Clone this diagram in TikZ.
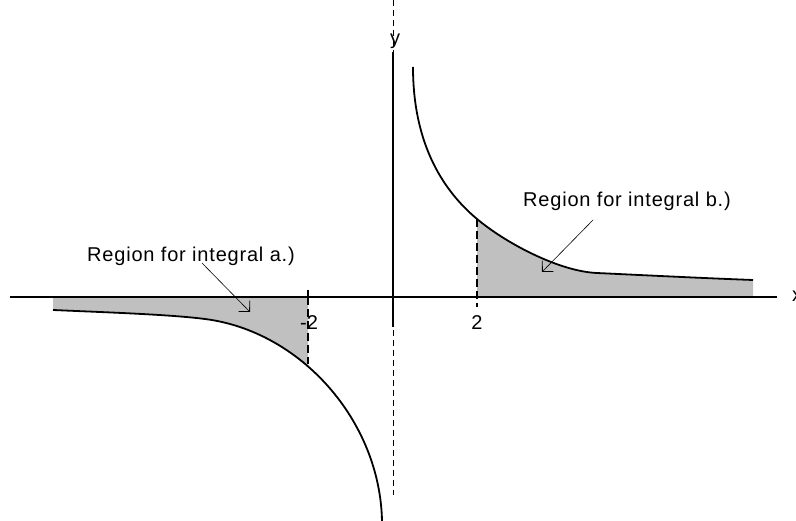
\documentclass[tikz,border=0pt]{standalone}
\usepackage{fontspec}
\setmainfont{Liberation Sans}
\usetikzlibrary{arrows.meta}
\definecolor{shadegray}{HTML}{C0C0C0}
\begin{document}
\begin{tikzpicture}[x=1pt,y=-1pt,
  lbl/.style={font=\fontsize{20}{24}\selectfont\addfontfeature{LetterSpace=4}, inner sep=0pt, anchor=base},
  num/.style={font=\fontsize{20}{24}\selectfont, inner sep=0pt, anchor=base},
  axis/.style={line width=1.6pt},
  curve/.style={line width=1.8pt},
  bound/.style={line width=1.6pt, dash pattern=on 8pt off 4pt},
  asym/.style={line width=0.8pt, dash pattern=on 6pt off 4pt},
  pointer/.style={line width=0.6pt, -{Straight Barb[angle=90:11pt, line width=0.8pt]}}]
\useasboundingbox (0,0) rectangle (796,521);
% shaded regions
\begin{scope}
  \clip (477,0) rectangle (753,297);
  \fill[shadegray] (413,67) .. controls (413,140) and (440,188) .. (477,219)
    .. controls (507,244) and (560,271.5) .. (597,273)
    .. controls (650,275.5) and (700,278) .. (753,280) -- (753,297) -- (413,297) -- cycle;
\end{scope}
\begin{scope}
  \clip (53,297) rectangle (308,521);
  \fill[shadegray] (53,310) .. controls (110,312.5) and (170,314.5) .. (205,319)
    .. controls (300,331) and (380,420) .. (382,521) -- (382,297) -- (53,297) -- cycle;
\end{scope}
% axes
\draw[asym] (393,0) -- (393,495);
\draw[axis] (393,52) -- (393,327);
\draw[axis] (10,297) -- (777,297);
% bounds and ticks
\draw[axis] (308,290) -- (308,297);
\draw[bound] (308,297) -- (308,364);
\draw[bound] (477,219) -- (477,307);
% curves
\draw[curve] (413,67) .. controls (413,140) and (440,188) .. (477,219)
    .. controls (507,244) and (560,271.5) .. (597,273)
    .. controls (650,275.5) and (700,278) .. (753,280);
\draw[curve] (53,310) .. controls (110,312.5) and (170,314.5) .. (205,319)
    .. controls (300,331) and (380,420) .. (382,521);
% labels
\node[num] (ylab) at (395,45) {y};
\node[num, anchor=base west] (xlab) at (792,302) {x};
\node[num] (m2) at (309,330) {-2};
\node[num] (p2) at (477,330) {2};
\node[lbl] (la) at (191,262) {Region for integral a.)};
\node[lbl] (lb) at (627,207) {Region for integral b.)};
% pointers
\coordinate (sa) at (202,263);
\coordinate (ta) at (250,312);
\coordinate (sb) at (593,220);
\coordinate (tb) at (542,272);
\draw[pointer] (sa) -- (ta);
\draw[pointer] (sb) -- (tb);
\end{tikzpicture}
\end{document}
